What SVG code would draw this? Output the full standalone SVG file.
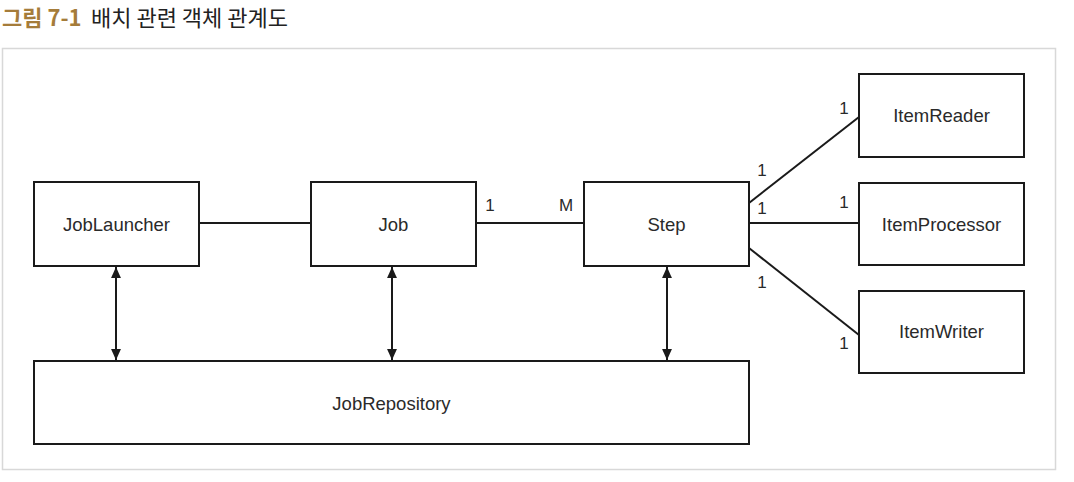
<svg xmlns="http://www.w3.org/2000/svg" width="1074" height="482" viewBox="0 0 1074 482">
<style>
.box{fill:#fff;stroke:#1a1a1a;stroke-width:2}
.lbl{font-family:"Liberation Sans",Arial,sans-serif;font-size:18.5px;fill:#2a2a2a;text-anchor:middle}
.num{font-family:"Liberation Sans",Arial,sans-serif;font-size:17px;fill:#2a2a2a;text-anchor:middle}
.ln{stroke:#1a1a1a;stroke-width:2;fill:none}
</style>
<defs>
<marker id="ah" viewBox="0 0 10 10" refX="10" refY="5" markerWidth="5.5" markerHeight="5.5" orient="auto-start-reverse" markerUnits="strokeWidth">
<path d="M0,0.5 L10,5 L0,9.5 z" fill="#1a1a1a"/>
</marker>
</defs>
<rect width="1074" height="482" fill="#fff"/>
<text x="2" y="26" font-family="'Noto Sans CJK KR',sans-serif" font-size="22" font-weight="bold" fill="#a57c3a">그림 7-1</text>
<text x="91" y="26" font-family="'Noto Sans CJK KR',sans-serif" font-size="22" fill="#222">배치 관련 객체 관계도</text>
<rect x="2.5" y="48.5" width="1053" height="421" fill="none" stroke="#d8d8d8" stroke-width="1.5"/>
<g id="connectors">
<line class="ln" x1="199" y1="223" x2="311" y2="223"/>
<line class="ln" x1="476" y1="223" x2="584" y2="223"/>
<line class="ln" x1="749" y1="203" x2="859" y2="117"/>
<line class="ln" x1="749" y1="223" x2="859" y2="223"/>
<line class="ln" x1="749" y1="248" x2="859" y2="335"/>
<line class="ln" x1="116" y1="267" x2="116" y2="360" marker-start="url(#ah)" marker-end="url(#ah)"/>
<line class="ln" x1="392" y1="267" x2="392" y2="360" marker-start="url(#ah)" marker-end="url(#ah)"/>
<line class="ln" x1="667" y1="267" x2="667" y2="360" marker-start="url(#ah)" marker-end="url(#ah)"/>
<text class="num" x="490" y="211">1</text>
<text class="num" x="566" y="211">M</text>
<text class="num" x="844" y="114">1</text>
<text class="num" x="762" y="176">1</text>
<text class="num" x="762" y="214">1</text>
<text class="num" x="844" y="208">1</text>
<text class="num" x="762" y="288">1</text>
<text class="num" x="844" y="349">1</text>
</g>
<g id="JobLauncher"><rect class="box" x="34" y="182" width="165" height="84"/><text class="lbl" x="116.5" y="231">JobLauncher</text></g>
<g id="Job"><rect class="box" x="311" y="182" width="165" height="84"/><text class="lbl" x="393.5" y="231">Job</text></g>
<g id="Step"><rect class="box" x="584" y="182" width="165" height="84"/><text class="lbl" x="666.5" y="231">Step</text></g>
<g id="ItemReader"><rect class="box" x="859" y="74" width="165" height="83"/><text class="lbl" x="941.5" y="122">ItemReader</text></g>
<g id="ItemProcessor"><rect class="box" x="859" y="183" width="165" height="82"/><text class="lbl" x="941.5" y="231">ItemProcessor</text></g>
<g id="ItemWriter"><rect class="box" x="859" y="291" width="165" height="82"/><text class="lbl" x="941.5" y="338">ItemWriter</text></g>
<g id="JobRepository"><rect class="box" x="34" y="361" width="715" height="83"/><text class="lbl" x="391.5" y="410">JobRepository</text></g>
</svg>
